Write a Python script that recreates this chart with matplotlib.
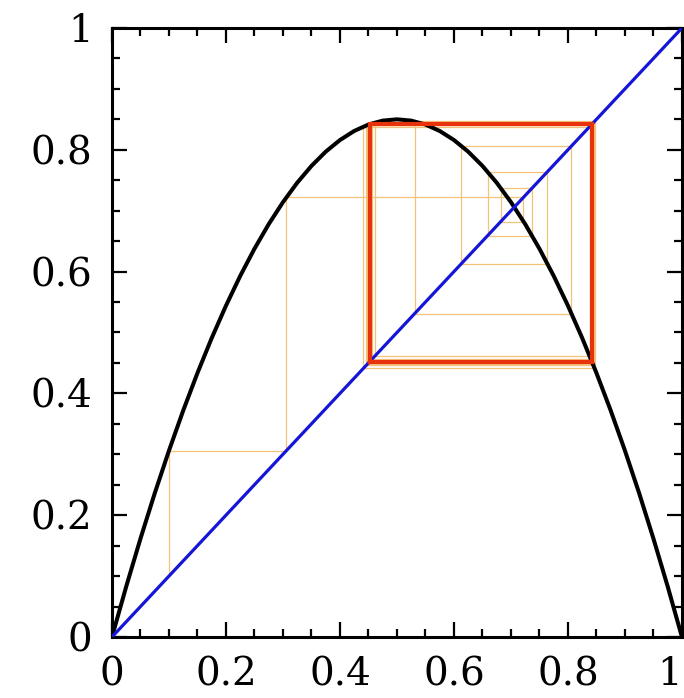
import matplotlib
matplotlib.use("Agg")
import matplotlib.pyplot as plt
from matplotlib.ticker import MultipleLocator

# logistic map curve (peak 0.85 at x = 0.5)
curve_x = [i * 0.025 for i in range(41)]
curve_half = [0.0, 0.0829, 0.1615, 0.2359, 0.306, 0.3719, 0.4335, 0.4909,
              0.544, 0.5929, 0.6375, 0.6779, 0.714, 0.7459, 0.7735, 0.7969,
              0.816, 0.8309, 0.8415, 0.8479, 0.85]
curve_y = curve_half + curve_half[-2::-1]

# orbit of the iteration, starting at 0.1
orbit = [0.1, 0.306, 0.722, 0.682, 0.737, 0.659, 0.764, 0.613, 0.806,
         0.531, 0.847, 0.441, 0.838, 0.461, 0.845, 0.446, 0.840, 0.457,
         0.844, 0.448, 0.841, 0.455]

# the period-2 cycle
cycle = [0.452, 0.842]

tick_vals = [0, 0.2, 0.4, 0.6, 0.8, 1]
tick_text = ["0", "0.2", "0.4", "0.6", "0.8", "1"]

fig = plt.figure(figsize=(6.84, 6.98), dpi=100)
ax = fig.add_axes([0.1637, 0.0874, 0.8333, 0.8725])

# cobweb path
wx, wy = [orbit[0]], [orbit[0]]
for a, b in zip(orbit[:-1], orbit[1:]):
    wx += [a, b]
    wy += [b, b]
ax.plot(wx, wy, color="#f2b45a", lw=0.9, alpha=0.8, zorder=2)

ax.plot(curve_x, curve_y, color="black", lw=2.9, solid_joinstyle="round",
        solid_capstyle="round", zorder=3)
ax.plot([0, 1], [0, 1], color="#1515d8", lw=2.3, zorder=4)

lo, hi = cycle
ax.plot([lo, lo, hi, hi, lo], [lo, hi, hi, lo, lo], color="#e8320c", lw=3.0,
        solid_joinstyle="miter", zorder=5)

ax.set_xlim(0, 1)
ax.set_ylim(0, 1)
for s in ax.spines.values():
    s.set_linewidth(2.2)

ax.xaxis.set_minor_locator(MultipleLocator(0.05))
ax.yaxis.set_minor_locator(MultipleLocator(0.05))
ax.tick_params(which="both", direction="in", top=True, right=True, width=1.6)
ax.tick_params(which="major", length=11, pad=14)
ax.tick_params(which="minor", length=6)

ax.set_xticks(tick_vals)
ax.set_yticks(tick_vals)
ax.set_xticklabels(tick_text, family="DejaVu Serif", fontsize=28)
ax.set_yticklabels(tick_text, family="DejaVu Serif", fontsize=28)
ax.get_xticklabels()[-1].set_ha("right")

fig.savefig("out.png", dpi=100)
